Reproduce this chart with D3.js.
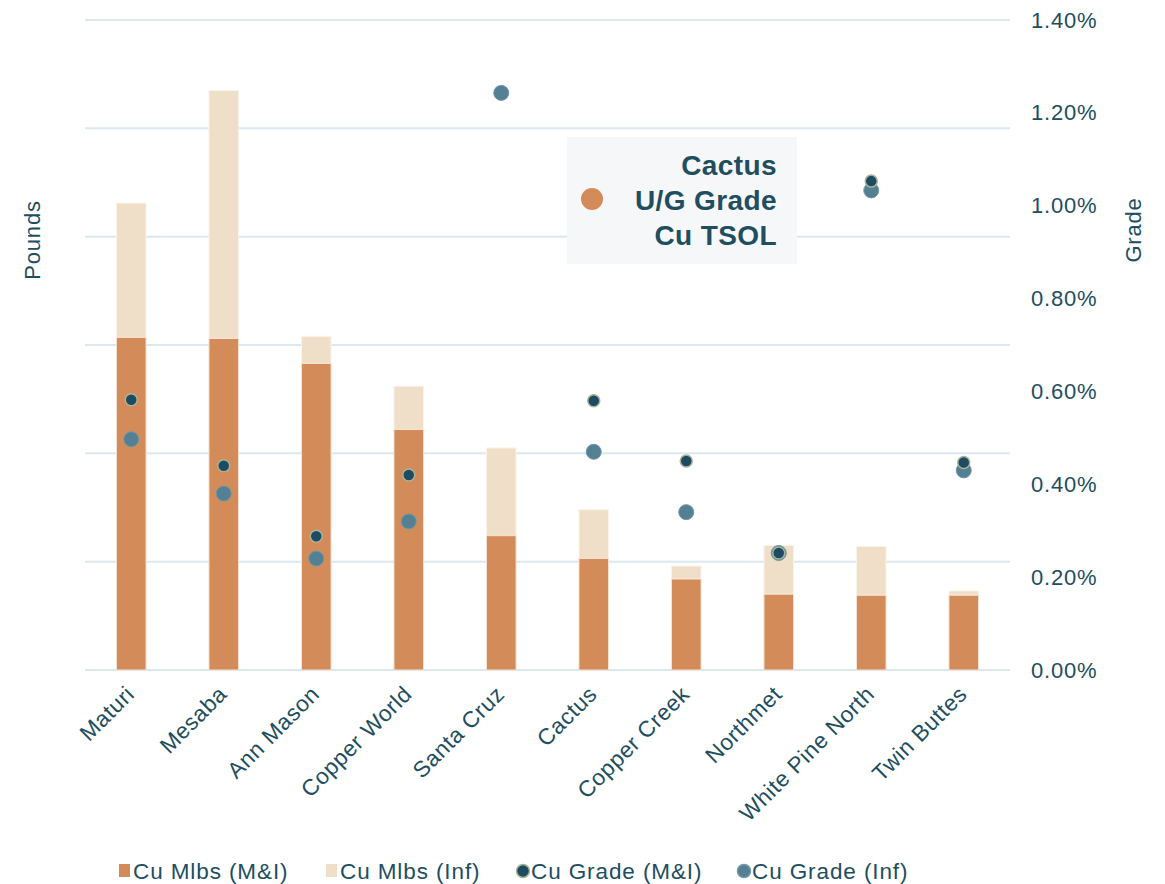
<!DOCTYPE html>
<html>
<head>
<meta charset="utf-8">
<script src="https://cdn.jsdelivr.net/npm/d3@7"></script>
<style>
  body { margin: 0; background: #fff; }
  text { font-family: "Liberation Sans", Arial, sans-serif; fill: #214e5f; }
</style>
</head>
<body>
<div id="chart"></div>
<script>
// data
const mines = ["Maturi", "Mesaba", "Ann Mason", "Copper World", "Santa Cruz",
    "Cactus", "Copper Creek", "Northmet", "White Pine North", "Twin Buttes"];
const lbsMI = [3.07, 3.06, 2.83, 2.22, 1.24, 1.03, 0.84, 0.70, 0.69, 0.69];
const lbsInf = [1.24, 2.29, 0.25, 0.40, 0.81, 0.45, 0.12, 0.45, 0.45, 0.04];
const gradeMI = [0.582, 0.440, 0.288, 0.420, null, 0.580, 0.450, 0.252, 1.053, 0.447];
const gradeInf = [0.497, 0.380, 0.240, 0.320, 1.243, 0.470, 0.340, 0.252, 1.033, 0.430];
const gradeTicks = [0, 0.2, 0.4, 0.6, 0.8, 1.0, 1.2, 1.4];

const colMI = "#d48b5a", colInf = "#f0dfc8", colGradeMI = "#1e4a62", colGradeInf = "#557f93";

const W = 1165, H = 884;
const margin = { top: 20, right: 155, bottom: 214, left: 85 };
const width = W - margin.left - margin.right;
const height = H - margin.top - margin.bottom;

const svg = d3.select("#chart").append("svg")
    .attr("width", W).attr("height", H)
    .append("g")
    .attr("transform", `translate(${margin.left},${margin.top})`);

const x = d3.scaleBand().domain(mines).range([0, width]).paddingInner(0.68).paddingOuter(0.34);
const y = d3.scaleLinear().domain([0, 6]).range([height, 0]);
const y2 = d3.scaleLinear().domain([0, 1.4]).range([height, 0]);

// gridlines from the (hidden) pounds axis
svg.append("g").selectAll("line")
    .data(y.ticks(6))
    .join("line")
    .attr("x1", 0).attr("x2", width)
    .attr("y1", d => y(d)).attr("y2", d => y(d))
    .attr("stroke", "#dce8ef").attr("stroke-width", 2);

// stacked bars
const stack = mines.map((m, i) => ({ m, mi: lbsMI[i], inf: lbsInf[i] }));
svg.append("g").selectAll("rect")
    .data(stack)
    .join("rect")
    .attr("x", d => x(d.m))
    .attr("width", x.bandwidth())
    .attr("y", d => y(d.mi + d.inf))
    .attr("height", d => y(d.mi) - y(d.mi + d.inf))
    .attr("fill", colInf)
    .attr("stroke", "#fbf3ea").attr("stroke-width", 1);
svg.append("g").selectAll("rect")
    .data(stack)
    .join("rect")
    .attr("x", d => x(d.m))
    .attr("width", x.bandwidth())
    .attr("y", d => y(d.mi))
    .attr("height", d => height - y(d.mi))
    .attr("fill", colMI)
    .attr("stroke", "#f6e3d3").attr("stroke-width", 1);

// grade dots (Inf drawn first so M&I sits on top)
const cx = m => x(m) + x.bandwidth() / 2;
svg.append("g").selectAll("circle")
    .data(mines.map((m, i) => ({ m, g: gradeInf[i] })).filter(d => d.g != null))
    .join("circle")
    .attr("cx", d => cx(d.m)).attr("cy", d => y2(d.g))
    .attr("r", 7.5)
    .attr("fill", colGradeInf).attr("stroke", "#6a9aa6").attr("stroke-width", 1);
svg.append("g").selectAll("circle")
    .data(mines.map((m, i) => ({ m, g: gradeMI[i] })).filter(d => d.g != null))
    .join("circle")
    .attr("cx", d => cx(d.m)).attr("cy", d => y2(d.g))
    .attr("r", 6)
    .attr("fill", colGradeMI).attr("stroke", "#a9b598").attr("stroke-width", 1.5);

// right axis (values already in percent)
const rAxis = svg.append("g")
    .attr("transform", `translate(${width},0)`)
    .call(d3.axisRight(y2).tickValues(gradeTicks).tickFormat(d => d.toFixed(2) + "%").tickSize(0).tickPadding(21));
rAxis.select(".domain").remove();
rAxis.selectAll("text")
    .style("font-size", "22px")
    .style("letter-spacing", "0.8px")
    .style("font-family", "Liberation Sans, Arial, sans-serif")
    .attr("fill", "#214e5f");

// x labels, rotated
svg.append("g").selectAll("text")
    .data(mines)
    .join("text")
    .attr("transform", d => `translate(${cx(d) - 1},${height + 20}) rotate(-45)`)
    .attr("text-anchor", "end")
    .attr("dy", "0.35em")
    .style("font-size", "22.5px")
    .style("letter-spacing", "0.6px")
    .text(d => d);

// axis titles
svg.append("text")
    .attr("transform", `translate(${40 - margin.left},${240 - margin.top}) rotate(-90)`)
    .attr("text-anchor", "middle")
    .style("font-size", "22px")
    .style("letter-spacing", "0.8px")
    .text("Pounds");
svg.append("text")
    .attr("transform", `translate(${1141 - margin.left},${230 - margin.top}) rotate(-90)`)
    .attr("text-anchor", "middle")
    .style("font-size", "22px")
    .style("letter-spacing", "0.8px")
    .text("Grade");

// annotation box
const note = svg.append("g").attr("transform", `translate(${567 - margin.left},${137 - margin.top})`);
note.append("rect").attr("width", 230).attr("height", 127).attr("fill", "#f5f7f9");
note.append("circle").attr("cx", 25).attr("cy", 62).attr("r", 11).attr("fill", colMI);
["Cactus", "U/G Grade", "Cu TSOL"].forEach((t, i) => {
    note.append("text")
        .attr("x", 210).attr("y", 38 + i * 35)
        .attr("text-anchor", "end")
        .style("font-size", "28px").style("font-weight", "bold")
        .style("letter-spacing", "0.4px")
        .text(t);
});

// bottom legend
const legend = [
    { label: "Cu Mlbs (M&I)", x: 119, type: "rect", color: colMI },
    { label: "Cu Mlbs (Inf)", x: 326, type: "rect", color: colInf },
    { label: "Cu Grade (M&I)", x: 517, type: "dot", color: colGradeMI, stroke: "#a9b598" },
    { label: "Cu Grade (Inf)", x: 738, type: "dot", color: colGradeInf, stroke: "#6a9aa6" }
];
const lg = svg.append("g").attr("transform", `translate(${-margin.left},${-margin.top})`);
legend.forEach(d => {
    if (d.type === "rect") {
        lg.append("rect").attr("x", d.x).attr("y", 864).attr("width", 11).attr("height", 13).attr("fill", d.color);
    } else {
        lg.append("circle").attr("cx", d.x + 6).attr("cy", 871).attr("r", 6.5)
            .attr("fill", d.color).attr("stroke", d.stroke).attr("stroke-width", 1.5);
    }
    lg.append("text").attr("x", d.x + 14).attr("y", 879)
        .style("font-size", "22.5px")
        .style("letter-spacing", "0.9px")
        .text(d.label);
});
</script>
</body>
</html>
